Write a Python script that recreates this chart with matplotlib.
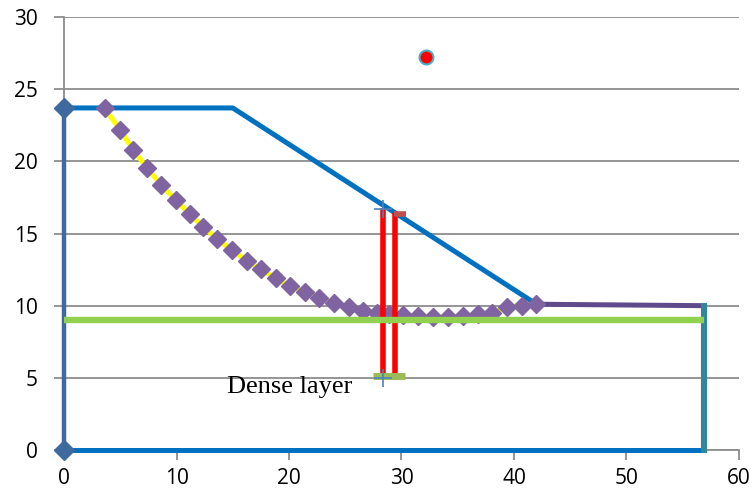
"""Slope cross-section with slip surface, water table and dense layer."""

import matplotlib

matplotlib.use("Agg")
import matplotlib.pyplot as plt  # noqa: E402

# slope outline (pieces drawn in different colours, as in the source sheet)
LEFT_X = [0, 0]
LEFT_Y = [0, 23.7]
CREST_X = [0, 15, 42.0]
CREST_Y = [23.7, 23.7, 10.1]
TOE_X = [42.0, 56.85]
TOE_Y = [10.1, 10.0]
RIGHT_X = [56.85, 56.85]
RIGHT_Y = [10.0, 0]
BASE_X = [56.85, 0]
BASE_Y = [0, 0]

# water table
WT_X = [0, 56.85]
WT_Y = [9, 9]

# trial slip surface
SLIP_X = [3.62, 4.98, 6.16, 7.40, 8.62, 9.96, 11.2, 12.38, 13.63, 14.91,
          16.24, 17.48, 18.84, 20.09, 21.42, 22.69, 24.0, 25.31, 26.55, 27.8,
          28.92, 30.16, 31.49, 32.83, 34.16, 35.49, 36.83, 38.02, 39.35,
          40.68, 42.0]
SLIP_Y = [23.68, 22.18, 20.79, 19.52, 18.36, 17.30, 16.33, 15.47, 14.60,
          13.86, 13.12, 12.52, 11.90, 11.37, 10.93, 10.51, 10.17, 9.89, 9.63,
          9.51, 9.42, 9.36, 9.29, 9.24, 9.24, 9.29, 9.42, 9.51, 9.93, 10.0,
          10.12]

# verticals down to the dense layer
BAR1_X = [28.36, 28.36]
BAR1_Y = [5.2, 16.8]
BAR2_X = [29.38, 29.38]
BAR2_Y = [5.2, 16.4]
CAP_X = [29.85]
CAP_Y = [16.35]
PLUS_X = [28.36, 28.36]
PLUS_Y = [16.7, 5.0]
DENSE_X = [28.9]
DENSE_Y = [5.15]

# slip circle centre
CENTRE_X = [32.2]
CENTRE_Y = [27.2]

GRID = "#8c8c8c"

fig = plt.figure(figsize=(7.53, 4.99), dpi=100)
ax = fig.add_axes([0.085, 0.0982, 0.8964, 0.8677])

ax.plot(BASE_X, BASE_Y, color="#0070C0", lw=3.6, zorder=3,
        solid_capstyle="butt", clip_on=False)
ax.plot(RIGHT_X, RIGHT_Y, color="#31869B", lw=4.4, zorder=3.2, clip_on=False)
ax.plot(TOE_X, TOE_Y, color="#604A8B", lw=3.6, zorder=3, solid_capstyle="butt")
ax.plot(CREST_X, CREST_Y, color="#0070C0", lw=3.6, zorder=3,
        solid_capstyle="butt")
ax.plot(LEFT_X, LEFT_Y, color="#3F6AA0", lw=3.2, marker="D", ms=10,
        zorder=3.5, clip_on=False)

ax.plot(SLIP_X, SLIP_Y, color="#FFFF00", lw=3.6, marker="D", ms=8.8,
        mfc="#8064A2", mec="#8064A2", zorder=4)

ax.plot(BAR1_X, BAR1_Y, color="#FF0000", lw=4, zorder=5, solid_capstyle="butt")
ax.plot(BAR2_X, BAR2_Y, color="#FF0000", lw=4, zorder=5, solid_capstyle="butt")
ax.plot(CAP_X, CAP_Y, ls="none", marker="_", ms=9, mew=4, color="#C0504D",
        zorder=5.5)

ax.plot(WT_X, WT_Y, color="#92D050", lw=4.6, zorder=6, solid_capstyle="butt",
        clip_on=False)

ax.plot(DENSE_X, DENSE_Y, ls="none", marker="_", ms=23, mew=5,
        color="#9BBB59", zorder=6.5)
ax.plot(PLUS_X, PLUS_Y, ls="none", marker="+", ms=13, mew=1.2,
        color="#4F81BD", zorder=7)

ax.plot(CENTRE_X, CENTRE_Y, ls="none", marker="o", ms=10, mfc="#FF0000",
        mec="#4BACC6", mew=1.5, zorder=7)

ax.text(14.5, 4.35, "Dense layer", family="Liberation Serif", fontsize=19,
        va="center", ha="left")

ax.set_xlim(0, 60)
ax.set_ylim(0, 30)
ax.set_xticks(range(0, 61, 10))
ax.set_yticks(range(0, 31, 5))
ax.yaxis.grid(True, color=GRID, lw=1.3, zorder=0)
ax.set_axisbelow(True)
for side in ("top", "right"):
    ax.spines[side].set_visible(False)
for side in ("left", "bottom"):
    ax.spines[side].set_color(GRID)
    ax.spines[side].set_linewidth(1.3)
ax.tick_params(axis="both", colors=GRID, length=7, width=1.3,
               labelcolor="black", labelsize=15)
ax.tick_params(axis="y", pad=12)
ax.tick_params(axis="x", pad=6)
for lab in ax.get_xticklabels() + ax.get_yticklabels():
    lab.set_family("Open Sans")

fig.savefig("out.png", dpi=100)
